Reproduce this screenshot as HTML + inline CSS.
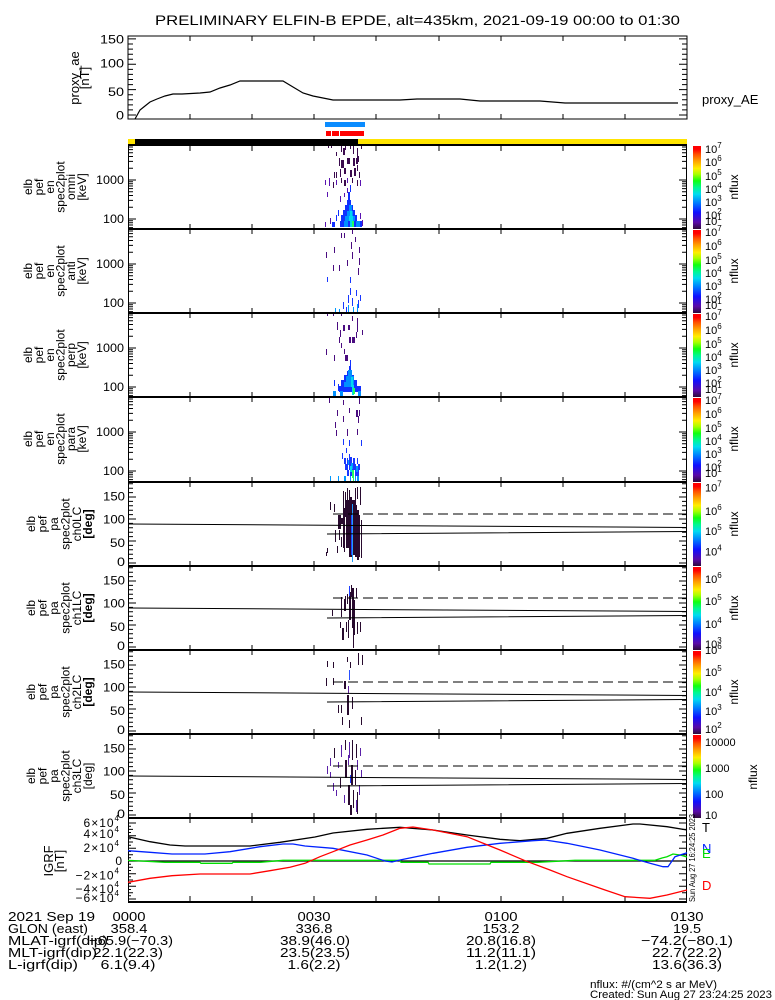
<!DOCTYPE html>
<html><head><meta charset="utf-8"><style>
html,body{margin:0;padding:0;background:#fff;}
svg{display:block;}
text{font-family:"Liberation Sans",sans-serif;fill:#000;}
</style></head><body>
<svg width="775" height="1000" viewBox="0 0 775 1000" xmlns="http://www.w3.org/2000/svg">
<defs>
<linearGradient id="cb" x1="0" y1="1" x2="0" y2="0">
<stop offset="0" stop-color="#2e0a3a"/>
<stop offset="0.08" stop-color="#5a0aa8"/>
<stop offset="0.2" stop-color="#1010ff"/>
<stop offset="0.31" stop-color="#0078ff"/>
<stop offset="0.42" stop-color="#00dcf0"/>
<stop offset="0.5" stop-color="#00f890"/>
<stop offset="0.58" stop-color="#10ff10"/>
<stop offset="0.66" stop-color="#a8ff00"/>
<stop offset="0.73" stop-color="#ffee00"/>
<stop offset="0.82" stop-color="#ffa000"/>
<stop offset="0.9" stop-color="#ff5000"/>
<stop offset="0.96" stop-color="#ff0000"/>
<stop offset="1" stop-color="#ff0000"/>
</linearGradient>
<path id="xbt" d="M190 -5v10M252 -5v10M314 -5v10M376 -5v10M439 -5v10M501 -5v10M563 -5v10M625 -5v10" stroke="#000" stroke-width="1"/>
<path id="xt" d="M190 0v5M252 0v5M314 0v5M376 0v5M439 0v5M501 0v5M563 0v5M625 0v5" stroke="#000" stroke-width="1"/>
<path id="xb" d="M190 0v-5M252 0v-5M314 0v-5M376 0v-5M439 0v-5M501 0v-5M563 0v-5M625 0v-5" stroke="#000" stroke-width="1"/>
<path id="eyt" stroke="#000" stroke-width="1" d="M128 74h8M128 35h8M128 82.6h5M128 80h5M128 77.8h5M128 75.8h5M128 62.3h5M128 55.4h5M128 50.5h5M128 46.7h5M128 43.6h5M128 41h5M128 38.8h5M128 36.8h5M128 23.3h5M128 16.4h5M128 11.5h5M128 7.7h5M128 4.6h5M128 2h5M687 74h-8M687 35h-8M687 82.6h-5M687 80h-5M687 77.8h-5M687 75.8h-5M687 62.3h-5M687 55.4h-5M687 50.5h-5M687 46.7h-5M687 43.6h-5M687 41h-5M687 38.8h-5M687 36.8h-5M687 23.3h-5M687 16.4h-5M687 11.5h-5M687 7.7h-5M687 4.6h-5M687 2h-5"/>
<path id="pyt" stroke="#000" stroke-width="1" d="M128 81h8M128 59h8M128 37h8M128 15h8M128 76.6h5M128 72.2h5M128 67.8h5M128 63.4h5M128 54.6h5M128 50.2h5M128 45.8h5M128 41.4h5M128 32.6h5M128 28.2h5M128 23.8h5M128 19.4h5M128 10.6h5M128 6.2h5M128 1.8h5M687 81h-8M687 59h-8M687 37h-8M687 15h-8M687 76.6h-5M687 72.2h-5M687 67.8h-5M687 63.4h-5M687 54.6h-5M687 50.2h-5M687 45.8h-5M687 41.4h-5M687 32.6h-5M687 28.2h-5M687 23.8h-5M687 19.4h-5M687 10.6h-5M687 6.2h-5M687 1.8h-5"/>
</defs>

<!-- Title -->
<text x="155" y="25" font-size="14" textLength="525" lengthAdjust="spacingAndGlyphs">PRELIMINARY ELFIN-B EPDE, alt=435km, 2021-09-19 00:00 to 01:30</text>

<!-- Top panel proxy_ae -->
<rect x="128" y="36" width="559" height="83" fill="none" stroke="#000" stroke-width="1"/>
<use href="#xt" transform="translate(0,36)"/>
<use href="#xb" transform="translate(0,119)"/>
<path stroke="#000" stroke-width="1" d="M128 115h8M128 89.6h8M128 64.3h8M128 38.9h8M128 109.9h5M128 104.9h5M128 99.8h5M128 94.7h5M128 84.6h5M128 79.5h5M128 74.4h5M128 69.4h5M128 59.2h5M128 54.2h5M128 49.1h5M128 44h5M687 115h-8M687 89.6h-8M687 64.3h-8M687 38.9h-8M687 109.9h-5M687 104.9h-5M687 99.8h-5M687 94.7h-5M687 84.6h-5M687 79.5h-5M687 74.4h-5M687 69.4h-5M687 59.2h-5M687 54.2h-5M687 49.1h-5M687 44h-5"/>
<g font-size="11.5" text-anchor="end">
<text x="124" y="43.5" textLength="24" lengthAdjust="spacingAndGlyphs">150</text>
<text x="124" y="67.5" textLength="24" lengthAdjust="spacingAndGlyphs">100</text>
<text x="124" y="96" textLength="16" lengthAdjust="spacingAndGlyphs">50</text>
<text x="124" y="119.5" textLength="8" lengthAdjust="spacingAndGlyphs">0</text>
</g>
<g font-size="13" text-anchor="middle">
<text transform="translate(79,78) rotate(-90)">proxy_ae</text>
<text transform="translate(89,78) rotate(-90)">[nT]</text>
</g>
<polyline fill="none" stroke="#000" stroke-width="1.2" points="135,119 140,110 145,106 150,102 157,99 165,96 173,94 182,94 200,93 210,92 220,88 230,85 240,81 283,81 293,87 303,93 313,96 323,98 333,100 400,100 417,99 460,99 480,101 540,101 565,103 678,103"/>
<text x="702" y="104" font-size="13">proxy_AE</text>

<!-- status bars -->
<rect x="325" y="122" width="40" height="5" fill="#0a8cff"/>
<rect x="326" y="131" width="5" height="5" fill="#ff0000"/>
<rect x="332" y="131" width="7" height="5" fill="#ff0000"/>
<rect x="340" y="131" width="24" height="5" fill="#ff0000"/>
<rect x="128" y="139" width="7" height="5" fill="#ffe400"/>
<rect x="135" y="139" width="223" height="5" fill="#000"/>
<rect x="358" y="139" width="329" height="5" fill="#ffe400"/>

<!-- ===== Spectrogram data ===== -->
<!-- Panel 1 omni -->
<g fill="#3b0a4e">
<rect x="328" y="145" width="1" height="3"/><rect x="331" y="145" width="1" height="3"/><rect x="341" y="145" width="1" height="7"/><rect x="343" y="148" width="2" height="7"/><rect x="345" y="145" width="1" height="5"/><rect x="350" y="145" width="1" height="4"/><rect x="353" y="145" width="1" height="9"/><rect x="357" y="148" width="1" height="10"/><rect x="361" y="145" width="1" height="4"/>
<rect x="336" y="152" width="1" height="4"/><rect x="339" y="158" width="1" height="8"/><rect x="341" y="160" width="3" height="8"/><rect x="347" y="158" width="3" height="6"/><rect x="353" y="158" width="2" height="8"/><rect x="356" y="158" width="2" height="6"/><rect x="358" y="156" width="1" height="6"/>
<rect x="334" y="172" width="1" height="6"/><rect x="336" y="172" width="1" height="6"/><rect x="340" y="169" width="1" height="8"/><rect x="344" y="168" width="2" height="6"/><rect x="350" y="170" width="2" height="7"/><rect x="354" y="168" width="2" height="8"/><rect x="357" y="165" width="1" height="6"/><rect x="359" y="172" width="1" height="6"/>
<rect x="333" y="182" width="1" height="6"/><rect x="341" y="178" width="1" height="5"/><rect x="344" y="180" width="2" height="6"/><rect x="352" y="178" width="1" height="5"/><rect x="357" y="180" width="1" height="6"/>
</g>
<g fill="#5a14b0">
<rect x="325" y="180" width="1" height="5"/><rect x="329" y="178" width="1" height="8"/><rect x="336" y="180" width="1" height="5"/><rect x="347" y="178" width="1" height="5"/><rect x="360" y="180" width="1" height="6"/>
<rect x="327" y="192" width="1" height="5"/><rect x="340" y="196" width="1" height="6"/><rect x="344" y="193" width="1" height="4"/><rect x="347" y="188" width="1" height="5"/><rect x="325" y="222" width="1" height="5"/><rect x="330" y="218" width="1" height="6"/><rect x="360" y="213" width="1" height="6"/><rect x="362" y="220" width="1" height="6"/>
</g>
<g fill="#1030ff">
<rect x="350" y="185" width="1" height="7"/><rect x="348" y="192" width="2" height="8"/><rect x="347" y="200" width="4" height="6"/><rect x="345" y="205" width="8" height="6"/><rect x="343" y="210" width="12" height="6"/><rect x="341" y="215" width="16" height="6"/><rect x="340" y="221" width="22" height="6"/><rect x="332" y="222" width="3" height="5"/><rect x="336" y="215" width="1" height="6"/><rect x="338" y="210" width="1" height="6"/>
</g>
<g fill="#0090ff"><rect x="349" y="205" width="3" height="6"/><rect x="347" y="211" width="6" height="5"/><rect x="345" y="216" width="10" height="5"/><rect x="344" y="221" width="4" height="6"/><rect x="356" y="221" width="4" height="6"/></g>
<g fill="#00d8f0"><rect x="350" y="211" width="2" height="5"/><rect x="349" y="216" width="4" height="5"/><rect x="350" y="221" width="2" height="6"/></g>
<rect x="352" y="221" width="2" height="6" fill="#20ff60"/>

<!-- Panel 2 anti -->
<g fill="#4a0c80">
<rect x="341" y="233" width="1" height="5"/><rect x="344" y="233" width="1" height="5"/><rect x="352" y="230" width="1" height="4"/><rect x="355" y="237" width="1" height="5"/><rect x="351" y="242" width="1" height="7"/><rect x="334" y="247" width="1" height="6"/><rect x="359" y="247" width="1" height="6"/><rect x="326" y="252" width="1" height="6"/><rect x="352" y="252" width="1" height="7"/><rect x="347" y="260" width="1" height="6"/><rect x="359" y="258" width="1" height="7"/><rect x="339" y="265" width="1" height="6"/><rect x="333" y="265" width="1" height="6"/><rect x="358" y="268" width="1" height="7"/>
</g>
<g fill="#1838ff">
<rect x="327" y="277" width="1" height="5"/><rect x="350" y="277" width="1" height="6"/><rect x="348" y="295" width="1" height="8"/><rect x="350" y="288" width="1" height="7"/><rect x="352" y="298" width="1" height="8"/><rect x="356" y="290" width="1" height="6"/><rect x="360" y="295" width="1" height="6"/><rect x="343" y="302" width="1" height="7"/><rect x="346" y="307" width="1" height="6"/><rect x="358" y="300" width="1" height="8"/>
</g>
<g fill="#0098ff"><rect x="335" y="308" width="1" height="5"/><rect x="348" y="305" width="1" height="8"/><rect x="353" y="307" width="1" height="6"/><rect x="357" y="304" width="1" height="8"/><rect x="339" y="309" width="1" height="4"/></g>

<!-- Panel 3 perp -->
<g fill="#4a0c80">
<rect x="327" y="313" width="1" height="3"/><rect x="333" y="313" width="1" height="3"/><rect x="341" y="313" width="1" height="3"/><rect x="352" y="316" width="1" height="5"/><rect x="357" y="318" width="1" height="8"/><rect x="337" y="322" width="1" height="8"/><rect x="343" y="325" width="2" height="6"/><rect x="348" y="325" width="2" height="5"/><rect x="357" y="326" width="1" height="6"/><rect x="340" y="330" width="1" height="7"/><rect x="356" y="332" width="1" height="6"/><rect x="362" y="330" width="1" height="5"/><rect x="349" y="337" width="2" height="6"/><rect x="352" y="337" width="2" height="6"/><rect x="339" y="337" width="1" height="6"/><rect x="354" y="337" width="1" height="6"/><rect x="341" y="343" width="1" height="5"/><rect x="326" y="349" width="1" height="6"/><rect x="344" y="349" width="1" height="5"/><rect x="334" y="355" width="1" height="6"/><rect x="345" y="355" width="3" height="6"/>
</g>
<g fill="#1030ff">
<rect x="350" y="360" width="1" height="6"/><rect x="349" y="366" width="2" height="5"/><rect x="347" y="371" width="2" height="5"/><rect x="344" y="375" width="10" height="7"/><rect x="341" y="380" width="16" height="7"/><rect x="339" y="386" width="22" height="6"/><rect x="334" y="380" width="1" height="6"/><rect x="338" y="384" width="1" height="7"/>
</g>
<g fill="#0090ff"><rect x="348" y="370" width="4" height="6"/><rect x="346" y="376" width="8" height="6"/><rect x="344" y="382" width="10" height="5"/><rect x="333" y="391" width="3" height="6"/><rect x="340" y="391" width="3" height="5"/><rect x="358" y="391" width="3" height="6"/></g>
<g fill="#00d8f0"><rect x="351" y="377" width="2" height="10"/><rect x="352" y="385" width="2" height="10"/></g>
<rect x="353" y="388" width="2" height="6" fill="#20ff60"/>

<!-- Panel 4 para -->
<g fill="#4a0c80">
<rect x="329" y="398" width="1" height="5"/><rect x="343" y="400" width="1" height="5"/><rect x="359" y="398" width="1" height="6"/><rect x="337" y="410" width="1" height="6"/><rect x="349" y="408" width="1" height="5"/><rect x="356" y="410" width="2" height="7"/><rect x="359" y="410" width="1" height="6"/><rect x="343" y="416" width="1" height="6"/><rect x="358" y="416" width="1" height="7"/><rect x="335" y="422" width="1" height="6"/><rect x="336" y="430" width="1" height="6"/><rect x="347" y="429" width="1" height="7"/><rect x="357" y="429" width="1" height="6"/>
</g>
<g fill="#1838ff">
<rect x="343" y="439" width="1" height="6"/><rect x="349" y="440" width="1" height="6"/><rect x="361" y="440" width="1" height="6"/><rect x="346" y="448" width="1" height="5"/><rect x="342" y="453" width="1" height="6"/><rect x="349" y="454" width="1" height="6"/>
<rect x="344" y="458" width="2" height="6"/><rect x="347" y="458" width="1" height="6"/><rect x="349" y="457" width="3" height="7"/><rect x="353" y="458" width="2" height="6"/><rect x="357" y="458" width="1" height="6"/><rect x="345" y="464" width="3" height="6"/><rect x="349" y="464" width="2" height="6"/><rect x="352" y="464" width="4" height="6"/><rect x="358" y="464" width="2" height="6"/><rect x="347" y="470" width="2" height="6"/><rect x="350" y="470" width="2" height="6"/><rect x="355" y="470" width="4" height="6"/>
</g>
<g fill="#0098ff"><rect x="348" y="460" width="1" height="5"/><rect x="351" y="463" width="2" height="6"/><rect x="356" y="466" width="2" height="6"/><rect x="330" y="476" width="1" height="6"/><rect x="338" y="476" width="1" height="6"/><rect x="344" y="476" width="2" height="6"/><rect x="350" y="476" width="1" height="6"/><rect x="355" y="476" width="1" height="6"/><rect x="357" y="476" width="2" height="6"/></g>
<rect x="350" y="466" width="2" height="6" fill="#00d8f0"/>
<rect x="352" y="470" width="2" height="8" fill="#20ff60"/><rect x="353" y="476" width="1" height="6" fill="#20ff60"/>

<!-- Panel 5 ch0LC -->
<g fill="#280a2e">
<rect x="343" y="491" width="1" height="20"/><rect x="345" y="492" width="1" height="25"/><rect x="347" y="488" width="1" height="15"/><rect x="349" y="490" width="1" height="18"/><rect x="355" y="488" width="1" height="22"/><rect x="357" y="487" width="1" height="12"/><rect x="360" y="487" width="1" height="18"/><rect x="334" y="504" width="1" height="8"/><rect x="330" y="502" width="1" height="8"/>
<rect x="338" y="515" width="3" height="14"/><rect x="341" y="518" width="2" height="6"/><rect x="343" y="508" width="2" height="40"/><rect x="346" y="500" width="3" height="48"/><rect x="349" y="497" width="3" height="60"/><rect x="352" y="500" width="3" height="55"/><rect x="355" y="505" width="2" height="52"/><rect x="357" y="510" width="2" height="50"/><rect x="359" y="515" width="1" height="42"/><rect x="361" y="520" width="1" height="38"/><rect x="339" y="530" width="1" height="10"/><rect x="335" y="530" width="1" height="12"/><rect x="337" y="546" width="1" height="7"/><rect x="327" y="548" width="1" height="5"/><rect x="326" y="552" width="1" height="4"/><rect x="344" y="540" width="1" height="12"/><rect x="341" y="537" width="1" height="10"/>
</g>
<rect x="351" y="515" width="1" height="40" fill="#2040ff"/>
<rect x="352" y="504" width="1" height="58" fill="#20a0ff"/>

<!-- Panel 6 ch1LC -->
<g fill="#280a2e">
<rect x="351" y="585" width="1" height="12"/><rect x="347" y="594" width="1" height="10"/><rect x="349" y="592" width="2" height="28"/><rect x="352" y="588" width="2" height="40"/><rect x="354" y="600" width="1" height="35"/><rect x="356" y="588" width="1" height="10"/><rect x="341" y="597" width="1" height="20"/><rect x="344" y="599" width="2" height="12"/><rect x="332" y="610" width="1" height="6"/><rect x="340" y="622" width="1" height="6"/><rect x="342" y="628" width="2" height="12"/><rect x="346" y="622" width="1" height="10"/><rect x="348" y="620" width="1" height="18"/><rect x="353" y="628" width="1" height="20"/><rect x="357" y="622" width="1" height="12"/><rect x="360" y="622" width="1" height="10"/><rect x="345" y="596" width="1" height="6"/>
</g>
<rect x="349" y="586" width="1" height="10" fill="#2040ff"/>

<!-- Panel 7 ch2LC -->
<g fill="#280a2e">
<rect x="327" y="661" width="1" height="6"/><rect x="333" y="662" width="1" height="6"/><rect x="347" y="657" width="1" height="5"/><rect x="350" y="662" width="1" height="6"/><rect x="358" y="653" width="1" height="12"/><rect x="362" y="655" width="1" height="10"/><rect x="326" y="678" width="1" height="8"/><rect x="333" y="678" width="1" height="7"/><rect x="344" y="681" width="2" height="8"/><rect x="347" y="695" width="2" height="20"/><rect x="352" y="697" width="1" height="12"/><rect x="338" y="705" width="1" height="8"/><rect x="341" y="705" width="1" height="8"/><rect x="342" y="717" width="1" height="8"/><rect x="349" y="720" width="1" height="8"/><rect x="361" y="717" width="1" height="8"/>
</g>
<rect x="349" y="670" width="1" height="10" fill="#2a50ff"/>
<rect x="348" y="686" width="1" height="8" fill="#6020a0"/>

<!-- Panel 8 ch3LC -->
<g fill="#280a2e">
<rect x="334" y="748" width="1" height="10"/><rect x="345" y="740" width="1" height="10"/><rect x="352" y="740" width="1" height="20"/><rect x="356" y="744" width="1" height="14"/><rect x="345" y="760" width="2" height="18"/><rect x="351" y="765" width="2" height="20"/><rect x="355" y="770" width="1" height="15"/><rect x="340" y="778" width="1" height="10"/><rect x="348" y="785" width="2" height="20"/><rect x="353" y="790" width="1" height="18"/><rect x="357" y="792" width="1" height="22"/><rect x="350" y="805" width="2" height="10"/>
</g>
<g fill="#5a20a8">
<rect x="330" y="758" width="1" height="8"/><rect x="341" y="745" width="1" height="12"/><rect x="349" y="742" width="1" height="16"/><rect x="360" y="748" width="1" height="8"/><rect x="338" y="762" width="1" height="6"/><rect x="357" y="760" width="1" height="10"/><rect x="330" y="772" width="1" height="6"/><rect x="344" y="795" width="1" height="8"/><rect x="336" y="790" width="1" height="6"/><rect x="356" y="800" width="1" height="12"/><rect x="348" y="755" width="1" height="10"/><rect x="327" y="766" width="1" height="8"/><rect x="361" y="770" width="1" height="8"/><rect x="333" y="783" width="1" height="8"/><rect x="359" y="785" width="1" height="10"/>
</g>
<rect x="350" y="775" width="1" height="8" fill="#2040ff"/>

<!-- PA lines -->
<g stroke="#000" stroke-width="1" fill="none">
<path d="M128 524L687 527.5M327 534L687 531.5"/>
<path d="M333 514H687" stroke-dasharray="10 5"/>
<path d="M128 608L687 611.5M327 618L687 615.5"/>
<path d="M333 598H687" stroke-dasharray="10 5"/>
<path d="M128 692L687 695.5M327 702L687 699.5"/>
<path d="M333 682H687" stroke-dasharray="10 5"/>
<path d="M128 776L687 779.5M327 786L687 783.5"/>
<path d="M333 766H687" stroke-dasharray="10 5"/>
</g>

<!-- Panel frames -->
<g stroke="#000" fill="none">
<path stroke-width="2" d="M128 145H687M128 229H687M128 313H687M128 397H687M128 482H687M128 566H687M128 650H687M128 734H687M128 818H687M128 902H687"/>
<path stroke-width="1" d="M128.5 144V903M686.5 144V903"/>
</g>
<use href="#xt" transform="translate(0,146)"/>
<use href="#xbt" transform="translate(0,229)"/>
<use href="#xbt" transform="translate(0,313)"/>
<use href="#xbt" transform="translate(0,397)"/>
<use href="#xbt" transform="translate(0,482)"/>
<use href="#xbt" transform="translate(0,566)"/>
<use href="#xbt" transform="translate(0,650)"/>
<use href="#xbt" transform="translate(0,734)"/>
<use href="#xbt" transform="translate(0,818)"/>
<use href="#xb" transform="translate(0,901)"/>

<use href="#eyt" transform="translate(0,145)"/>
<use href="#eyt" transform="translate(0,229)"/>
<use href="#eyt" transform="translate(0,313)"/>
<use href="#eyt" transform="translate(0,397)"/>
<use href="#pyt" transform="translate(0,482)"/>
<use href="#pyt" transform="translate(0,566)"/>
<use href="#pyt" transform="translate(0,650)"/>
<use href="#pyt" transform="translate(0,734)"/>

<!-- energy axis labels -->
<g font-size="12" text-anchor="end">
<text x="124" y="184" textLength="28" lengthAdjust="spacingAndGlyphs">1000</text><text x="124" y="223" textLength="21" lengthAdjust="spacingAndGlyphs">100</text>
<text x="124" y="268" textLength="28" lengthAdjust="spacingAndGlyphs">1000</text><text x="124" y="307" textLength="21" lengthAdjust="spacingAndGlyphs">100</text>
<text x="124" y="352" textLength="28" lengthAdjust="spacingAndGlyphs">1000</text><text x="124" y="391" textLength="21" lengthAdjust="spacingAndGlyphs">100</text>
<text x="124" y="436" textLength="28" lengthAdjust="spacingAndGlyphs">1000</text><text x="124" y="475" textLength="21" lengthAdjust="spacingAndGlyphs">100</text>
</g>
<!-- PA axis labels -->
<g font-size="12" text-anchor="end">
<text x="125" y="500.5" textLength="22" lengthAdjust="spacingAndGlyphs">150</text><text x="125" y="523.5" textLength="22" lengthAdjust="spacingAndGlyphs">100</text><text x="125" y="547" textLength="15" lengthAdjust="spacingAndGlyphs">50</text><text x="125" y="566" textLength="8" lengthAdjust="spacingAndGlyphs">0</text>
<text x="125" y="584.5" textLength="22" lengthAdjust="spacingAndGlyphs">150</text><text x="125" y="607.5" textLength="22" lengthAdjust="spacingAndGlyphs">100</text><text x="125" y="631" textLength="15" lengthAdjust="spacingAndGlyphs">50</text><text x="125" y="650" textLength="8" lengthAdjust="spacingAndGlyphs">0</text>
<text x="125" y="668.5" textLength="22" lengthAdjust="spacingAndGlyphs">150</text><text x="125" y="691.5" textLength="22" lengthAdjust="spacingAndGlyphs">100</text><text x="125" y="715" textLength="15" lengthAdjust="spacingAndGlyphs">50</text><text x="125" y="734" textLength="8" lengthAdjust="spacingAndGlyphs">0</text>
<text x="125" y="752.5" textLength="22" lengthAdjust="spacingAndGlyphs">150</text><text x="125" y="775.5" textLength="22" lengthAdjust="spacingAndGlyphs">100</text><text x="125" y="799" textLength="15" lengthAdjust="spacingAndGlyphs">50</text><text x="125" y="818" textLength="8" lengthAdjust="spacingAndGlyphs">0</text>
</g>

<!-- left rotated labels -->
<g font-size="12" text-anchor="middle">
<g transform="translate(0,187)"><text transform="translate(32,0) rotate(-90)">elb</text><text transform="translate(43,0) rotate(-90)">pef</text><text transform="translate(54,0) rotate(-90)">en</text><text transform="translate(64.5,0) rotate(-90)">spec2plot</text><text transform="translate(75,0) rotate(-90)">omni</text><text transform="translate(86,0) rotate(-90)">[keV]</text></g>
<g transform="translate(0,271)"><text transform="translate(32,0) rotate(-90)">elb</text><text transform="translate(43,0) rotate(-90)">pef</text><text transform="translate(54,0) rotate(-90)">en</text><text transform="translate(64.5,0) rotate(-90)">spec2plot</text><text transform="translate(75,0) rotate(-90)">anti</text><text transform="translate(86,0) rotate(-90)">[keV]</text></g>
<g transform="translate(0,355)"><text transform="translate(32,0) rotate(-90)">elb</text><text transform="translate(43,0) rotate(-90)">pef</text><text transform="translate(54,0) rotate(-90)">en</text><text transform="translate(64.5,0) rotate(-90)">spec2plot</text><text transform="translate(75,0) rotate(-90)">perp</text><text transform="translate(86,0) rotate(-90)">[keV]</text></g>
<g transform="translate(0,439)"><text transform="translate(32,0) rotate(-90)">elb</text><text transform="translate(43,0) rotate(-90)">pef</text><text transform="translate(54,0) rotate(-90)">en</text><text transform="translate(64.5,0) rotate(-90)">spec2plot</text><text transform="translate(75,0) rotate(-90)">para</text><text transform="translate(86,0) rotate(-90)">[keV]</text></g>
<g transform="translate(0,524)"><text transform="translate(35,0) rotate(-90)">elb</text><text transform="translate(46.5,0) rotate(-90)">pef</text><text transform="translate(58,0) rotate(-90)">pa</text><text transform="translate(69.5,0) rotate(-90)">spec2plot</text><text transform="translate(81,0) rotate(-90)">ch0LC</text><text transform="translate(92,0) rotate(-90)" font-weight="bold">[deg]</text></g>
<g transform="translate(0,608)"><text transform="translate(35,0) rotate(-90)">elb</text><text transform="translate(46.5,0) rotate(-90)">pef</text><text transform="translate(58,0) rotate(-90)">pa</text><text transform="translate(69.5,0) rotate(-90)">spec2plot</text><text transform="translate(81,0) rotate(-90)">ch1LC</text><text transform="translate(92,0) rotate(-90)" font-weight="bold">[deg]</text></g>
<g transform="translate(0,692)"><text transform="translate(35,0) rotate(-90)">elb</text><text transform="translate(46.5,0) rotate(-90)">pef</text><text transform="translate(58,0) rotate(-90)">pa</text><text transform="translate(69.5,0) rotate(-90)">spec2plot</text><text transform="translate(81,0) rotate(-90)">ch2LC</text><text transform="translate(92,0) rotate(-90)" font-weight="bold">[deg]</text></g>
<g transform="translate(0,776)"><text transform="translate(35,0) rotate(-90)">elb</text><text transform="translate(46.5,0) rotate(-90)">pef</text><text transform="translate(58,0) rotate(-90)">pa</text><text transform="translate(69.5,0) rotate(-90)">spec2plot</text><text transform="translate(81,0) rotate(-90)">ch3LC</text><text transform="translate(92,0) rotate(-90)">[deg]</text></g>
<g transform="translate(0,861)"><text transform="translate(53,0) rotate(-90)" font-size="13">IGRF</text><text transform="translate(64,0) rotate(-90)" font-size="13">[nT]</text></g>
</g>

<!-- colorbars -->
<g fill="url(#cb)">
<rect x="693" y="146" width="8" height="83"/>
<rect x="693" y="230" width="8" height="83"/>
<rect x="693" y="314" width="8" height="83"/>
<rect x="693" y="398" width="8" height="84"/>
<rect x="693" y="483" width="8" height="83"/>
<rect x="693" y="567" width="8" height="83"/>
<rect x="693" y="651" width="8" height="83"/>
<rect x="693" y="735" width="8" height="83"/>
</g>
<g font-size="11">
<text x="705" y="153">10<tspan dy="-5" font-size="8">7</tspan></text>
<text x="705" y="166">10<tspan dy="-5" font-size="8">6</tspan></text>
<text x="705" y="180">10<tspan dy="-5" font-size="8">5</tspan></text>
<text x="705" y="193">10<tspan dy="-5" font-size="8">4</tspan></text>
<text x="705" y="206">10<tspan dy="-5" font-size="8">3</tspan></text>
<text x="705" y="219">10<tspan dy="-5" font-size="8">2</tspan></text>
<text x="705" y="225">10<tspan dy="-5" font-size="8">1</tspan></text>
<text x="705" y="236">10<tspan dy="-5" font-size="8">7</tspan></text>
<text x="705" y="250">10<tspan dy="-5" font-size="8">6</tspan></text>
<text x="705" y="264">10<tspan dy="-5" font-size="8">5</tspan></text>
<text x="705" y="277">10<tspan dy="-5" font-size="8">4</tspan></text>
<text x="705" y="290">10<tspan dy="-5" font-size="8">3</tspan></text>
<text x="705" y="303">10<tspan dy="-5" font-size="8">2</tspan></text>
<text x="705" y="309">10<tspan dy="-5" font-size="8">1</tspan></text>
<text x="705" y="320">10<tspan dy="-5" font-size="8">7</tspan></text>
<text x="705" y="334">10<tspan dy="-5" font-size="8">6</tspan></text>
<text x="705" y="348">10<tspan dy="-5" font-size="8">5</tspan></text>
<text x="705" y="361">10<tspan dy="-5" font-size="8">4</tspan></text>
<text x="705" y="374">10<tspan dy="-5" font-size="8">3</tspan></text>
<text x="705" y="387">10<tspan dy="-5" font-size="8">2</tspan></text>
<text x="705" y="393">10<tspan dy="-5" font-size="8">1</tspan></text>
<text x="705" y="404">10<tspan dy="-5" font-size="8">7</tspan></text>
<text x="705" y="418">10<tspan dy="-5" font-size="8">6</tspan></text>
<text x="705" y="432">10<tspan dy="-5" font-size="8">5</tspan></text>
<text x="705" y="445">10<tspan dy="-5" font-size="8">4</tspan></text>
<text x="705" y="458">10<tspan dy="-5" font-size="8">3</tspan></text>
<text x="705" y="471">10<tspan dy="-5" font-size="8">2</tspan></text>
<text x="705" y="477">10<tspan dy="-5" font-size="8">1</tspan></text>
<text x="705" y="491.5">10<tspan dy="-5" font-size="8">7</tspan></text>
<text x="705" y="515">10<tspan dy="-5" font-size="8">6</tspan></text>
<text x="705" y="535">10<tspan dy="-5" font-size="8">5</tspan></text>
<text x="705" y="555.5">10<tspan dy="-5" font-size="8">4</tspan></text>
<text x="705" y="583">10<tspan dy="-5" font-size="8">6</tspan></text>
<text x="705" y="605">10<tspan dy="-5" font-size="8">5</tspan></text>
<text x="705" y="628">10<tspan dy="-5" font-size="8">4</tspan></text>
<text x="705" y="648">10<tspan dy="-5" font-size="8">3</tspan></text>
<text x="705" y="654">10<tspan dy="-5" font-size="8">6</tspan></text>
<text x="705" y="676">10<tspan dy="-5" font-size="8">5</tspan></text>
<text x="705" y="696">10<tspan dy="-5" font-size="8">4</tspan></text>
<text x="705" y="715">10<tspan dy="-5" font-size="8">3</tspan></text>
<text x="705" y="733">10<tspan dy="-5" font-size="8">2</tspan></text>
<text x="705" y="746">10000</text>
<text x="705" y="772">1000</text>
<text x="705" y="798">100</text>
<text x="705" y="819">10</text>
</g>
<g font-size="12" text-anchor="middle">
<text transform="translate(738,187) rotate(-90)">nflux</text>
<text transform="translate(738,271) rotate(-90)">nflux</text>
<text transform="translate(738,355) rotate(-90)">nflux</text>
<text transform="translate(738,439) rotate(-90)">nflux</text>
<text transform="translate(738,524) rotate(-90)">nflux</text>
<text transform="translate(738,608) rotate(-90)">nflux</text>
<text transform="translate(738,692) rotate(-90)">nflux</text>
<text transform="translate(757,777) rotate(-90)">nflux</text>
</g>

<!-- IGRF panel -->
<path stroke="#000" stroke-width="1" d="M128 823h8M128 835.7h8M128 848.3h8M128 861h8M128 873.7h8M128 886.3h8M128 899h8M128 829.4h5M128 842h5M128 854.7h5M128 867.3h5M128 880h5M128 892.7h5M128 826.2h3M128 832.5h3M128 838.8h3M128 845.2h3M128 851.5h3M128 857.8h3M128 864.2h3M128 870.5h3M128 876.8h3M128 883.2h3M128 889.5h3M128 895.8h3M687 823h-8M687 835.7h-8M687 848.3h-8M687 861h-8M687 873.7h-8M687 886.3h-8M687 899h-8M687 829.4h-5M687 842h-5M687 854.7h-5M687 867.3h-5M687 880h-5M687 892.7h-5"/>
<path stroke="#000" stroke-width="1.2" d="M128 861H687"/>
<polyline fill="none" stroke="#00dd00" stroke-width="1.3" points="128,860.5 132,860.5 165,862.3 200,862.3 201,863.3 232,863.3 233,862.3 260,862.3 283,860.3 400,860.3 401,862.3 428,862.3 429,864 490,864 491,862.3 537,862.3 575,860.3 655,860.3 662,858 667,856.7 673,854 680,855 687,857"/>
<polyline fill="none" stroke="#000" stroke-width="1.3" points="128,836.7 150,841.7 170,845 185,846 250,846 280,842.3 315,837 333,833 367,829.3 400,827.3 433,830 467,835 500,839.3 520,840.7 547,838.3 567,833.3 600,828.3 633,824 640,824 667,826.7 687,830"/>
<polyline fill="none" stroke="#0022ff" stroke-width="1.3" points="128,850.7 150,852.3 172,854 205,854 230,851.7 260,846.7 283,844 293,844 305,846 333,848.3 367,855 385,861 392,862 400,860 433,853.3 467,847.3 500,843.3 533,840.7 545,840 567,843.3 600,850 633,858.3 650,863.3 663,866.7 668,866.7 675,856.7 687,852.7"/>
<polyline fill="none" stroke="#ff0000" stroke-width="1.3" points="128,882.3 150,878.3 172,875.7 200,874 250,874 270,870.7 290,867.3 305,863.3 320,856.7 333,851.7 350,845 367,840 383,835 400,828.3 413,827 433,830 467,836.7 485,844 500,850 525,860.7 550,870 567,876.7 600,888.3 625,896.7 650,898.3 667,895 687,890"/>
<g font-size="12" text-anchor="end" letter-spacing="1">
<text x="120" y="827">6×10<tspan dy="-6" font-size="8">4</tspan></text>
<text x="120" y="838">4×10<tspan dy="-6" font-size="8">4</tspan></text>
<text x="120" y="852">2×10<tspan dy="-6" font-size="8">4</tspan></text>
<text x="123" y="865">0</text>
<text x="120" y="879.5">−2×10<tspan dy="-6" font-size="8">4</tspan></text>
<text x="120" y="893">−4×10<tspan dy="-6" font-size="8">4</tspan></text>
<text x="120" y="902">−6×10<tspan dy="-6" font-size="8">4</tspan></text>
</g>
<text transform="translate(695,902) rotate(-90)" font-size="8" textLength="88" lengthAdjust="spacingAndGlyphs">Sun Aug 27 16:24:25 2023</text>
<g font-size="13">
<text x="702" y="832">T</text>
<text x="702" y="853" style="fill:#0022ff">N</text>
<text x="702" y="858" style="fill:#00dd00">E</text>
<text x="702" y="890" style="fill:#ff0000">D</text>
</g>

<!-- bottom annotation -->
<g font-size="13">
<text x="8" y="921" textLength="87" lengthAdjust="spacingAndGlyphs">2021 Sep 19</text>
<text x="8" y="933" textLength="80" lengthAdjust="spacingAndGlyphs">GLON (east)</text>
<text x="8" y="945" textLength="100" lengthAdjust="spacingAndGlyphs">MLAT-igrf(dip)</text>
<text x="8" y="957" textLength="89" lengthAdjust="spacingAndGlyphs">MLT-igrf(dip)</text>
<text x="8" y="969" textLength="70" lengthAdjust="spacingAndGlyphs">L-igrf(dip)</text>
</g>
<g font-size="13" text-anchor="middle">
<text x="129" y="921" textLength="33" lengthAdjust="spacingAndGlyphs">0000</text>
<text x="129" y="933" textLength="37" lengthAdjust="spacingAndGlyphs">358.4</text>
<text x="131" y="945" textLength="84" lengthAdjust="spacingAndGlyphs">−65.9(−70.3)</text>
<text x="128" y="957" textLength="70" lengthAdjust="spacingAndGlyphs">22.1(22.3)</text>
<text x="128" y="969" textLength="55" lengthAdjust="spacingAndGlyphs">6.1(9.4)</text>
<text x="314" y="921" textLength="33" lengthAdjust="spacingAndGlyphs">0030</text>
<text x="314" y="933" textLength="37" lengthAdjust="spacingAndGlyphs">336.8</text>
<text x="315" y="945" textLength="70" lengthAdjust="spacingAndGlyphs">38.9(46.0)</text>
<text x="315" y="957" textLength="70" lengthAdjust="spacingAndGlyphs">23.5(23.5)</text>
<text x="314" y="969" textLength="53" lengthAdjust="spacingAndGlyphs">1.6(2.2)</text>
<text x="501" y="921" textLength="33" lengthAdjust="spacingAndGlyphs">0100</text>
<text x="501" y="933" textLength="37" lengthAdjust="spacingAndGlyphs">153.2</text>
<text x="501" y="945" textLength="70" lengthAdjust="spacingAndGlyphs">20.8(16.8)</text>
<text x="501" y="957" textLength="70" lengthAdjust="spacingAndGlyphs">11.2(11.1)</text>
<text x="501" y="969" textLength="52" lengthAdjust="spacingAndGlyphs">1.2(1.2)</text>
<text x="687" y="921" textLength="33" lengthAdjust="spacingAndGlyphs">0130</text>
<text x="687" y="933" textLength="28" lengthAdjust="spacingAndGlyphs">19.5</text>
<text x="687" y="945" textLength="92" lengthAdjust="spacingAndGlyphs">−74.2(−80.1)</text>
<text x="687" y="957" textLength="70" lengthAdjust="spacingAndGlyphs">22.7(22.2)</text>
<text x="687" y="969" textLength="70" lengthAdjust="spacingAndGlyphs">13.6(36.3)</text>
</g>
<g font-size="11">
<text x="590" y="988" textLength="127" lengthAdjust="spacingAndGlyphs">nflux: #/(cm^2 s ar MeV)</text>
<text x="590" y="998" textLength="182" lengthAdjust="spacingAndGlyphs">Created: Sun Aug 27 23:24:25 2023</text>
</g>
</svg>
</body></html>
